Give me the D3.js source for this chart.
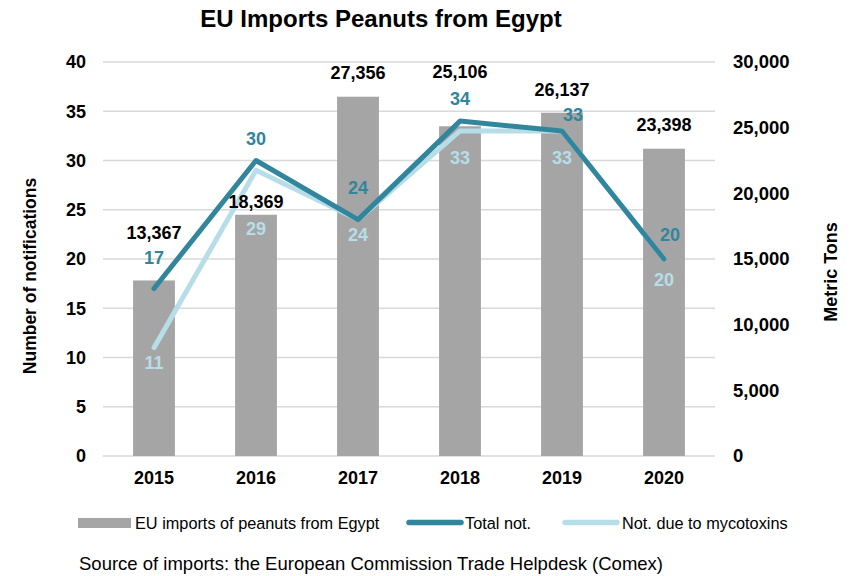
<!DOCTYPE html>
<html><head><meta charset="utf-8">
<script src="https://cdn.jsdelivr.net/npm/d3@7/dist/d3.min.js"></script>
<style>body{margin:0;background:#fff}svg{display:block;font-family:"Liberation Sans",Arial,sans-serif}</style>
</head><body>
<svg id="c" width="852" height="576"></svg>
<script>
const years = ["2015","2016","2017","2018","2019","2020"];
const imports = [13367, 18369, 27356, 25106, 26137, 23398];
const totalNot = [17, 30, 24, 34, 33, 20];
const mycoNot = [11, 29, 24, 33, 33, 20];
const leftTicks = [0,5,10,15,20,25,30,35,40];
const rightTicks = [0,5000,10000,15000,20000,25000,30000];

// label placement offsets (style, not data)
const barLabelDy = [-46, -12, -22, -53, -21, -22];
const totLabel = [[0,-29],[0,-20],[0,-30],[0,-21],[11,-15],[6,-23]];
const mycLabel = [[0,17],[0,60],[0,17],[0,28],[0,28],[0,22]];

const svg = d3.select("#c");
const x0 = 103, x1 = 715, yTop = 62, yBot = 456;
const x = d3.scaleBand().domain(years).range([x0, x1]).paddingInner(0.59).paddingOuter(0.295);
const xc = d => x(d) + x.bandwidth()/2;
const yL = d3.scaleLinear().domain([0,40]).range([yBot, yTop]);
const yR = d3.scaleLinear().domain([0,30000]).range([yBot, yTop]);
const FF = "Liberation Sans, Arial, sans-serif";

// gridlines
svg.append("g").selectAll("line").data(leftTicks).join("line")
  .attr("x1", x0).attr("x2", x1).attr("y1", d=>yL(d)).attr("y2", d=>yL(d))
  .attr("stroke", "#d9d9d9").attr("stroke-width", 1.3);

// bars
svg.append("g").selectAll("rect").data(imports).join("rect")
  .attr("x", (d,i)=>x(years[i])).attr("width", x.bandwidth())
  .attr("y", d=>yR(d)).attr("height", d=>yBot - yR(d)).attr("fill", "#a5a5a5");

// left axis
const axL = svg.append("g").attr("transform", `translate(${x0-17},0)`)
  .call(d3.axisLeft(yL).tickValues(leftTicks).tickSize(0).tickPadding(0));
axL.select(".domain").remove();
axL.selectAll("text").attr("font-size", 18).attr("font-weight", "bold").attr("fill", "#000").attr("font-family", FF);

// right axis
const axR = svg.append("g").attr("transform", `translate(${x1+18},0)`)
  .call(d3.axisRight(yR).tickValues(rightTicks).tickSize(0).tickPadding(0).tickFormat(d3.format(",")));
axR.select(".domain").remove();
axR.selectAll("text").attr("font-size", 18.5).attr("font-weight", "bold").attr("fill", "#000").attr("font-family", FF);

// x axis
const axX = svg.append("g").attr("transform", `translate(0,${yBot})`)
  .call(d3.axisBottom(x).tickSize(0).tickPadding(15));
axX.select(".domain").remove();
axX.selectAll("text").attr("font-size", 18).attr("font-weight", "bold").attr("fill", "#000").attr("font-family", FF);

// lines
const line = arr => d3.line().x((d,i)=>xc(years[i])).y(d=>yL(d))(arr);
svg.append("path").attr("d", line(mycoNot)).attr("fill","none").attr("stroke","#b7dee8")
  .attr("stroke-width",5).attr("stroke-linejoin","round").attr("stroke-linecap","round");
svg.append("path").attr("d", line(totalNot)).attr("fill","none").attr("stroke","#31859c")
  .attr("stroke-width",5).attr("stroke-linejoin","round").attr("stroke-linecap","round");

// bar labels
svg.append("g").selectAll("text").data(imports).join("text")
  .attr("x",(d,i)=>xc(years[i])).attr("y",(d,i)=>yR(d)+barLabelDy[i])
  .attr("text-anchor","middle").attr("dominant-baseline","middle")
  .attr("font-size",18).attr("font-weight","bold").attr("fill","#000")
  .text(d=>d3.format(",")(d));

// line labels
svg.append("g").selectAll("text").data(totalNot).join("text")
  .attr("x",(d,i)=>xc(years[i])+totLabel[i][0]).attr("y",(d,i)=>yL(d)+totLabel[i][1])
  .attr("text-anchor","middle").attr("dominant-baseline","middle")
  .attr("font-size",18).attr("font-weight","bold").attr("fill","#31859c").text(d=>d);
svg.append("g").selectAll("text").data(mycoNot).join("text")
  .attr("x",(d,i)=>xc(years[i])+mycLabel[i][0]).attr("y",(d,i)=>yL(d)+mycLabel[i][1])
  .attr("text-anchor","middle").attr("dominant-baseline","middle")
  .attr("font-size",18).attr("font-weight","bold").attr("fill","#b7dee8").text(d=>d);

// title
svg.append("text").attr("x",381).attr("y",27).attr("text-anchor","middle")
  .attr("font-size",24).attr("font-weight","bold").text("EU Imports Peanuts from Egypt");

// axis titles
svg.append("text").attr("transform","translate(36,276) rotate(-90)").attr("text-anchor","middle")
  .attr("font-size",17.5).attr("font-weight","bold").text("Number of notifications");
svg.append("text").attr("transform","translate(837,272) rotate(-90)").attr("text-anchor","middle")
  .attr("font-size",18).attr("font-weight","bold").text("Metric Tons");

// legend
const lg = svg.append("g").attr("font-size",16.3);
lg.append("rect").attr("x",78).attr("y",518).attr("width",53).attr("height",10).attr("fill","#a5a5a5");
lg.append("text").attr("x",135).attr("y",528.5).text("EU imports of peanuts from Egypt");
lg.append("line").attr("x1",409).attr("x2",461).attr("y1",522.5).attr("y2",522.5)
  .attr("stroke","#31859c").attr("stroke-width",5.5).attr("stroke-linecap","round");
lg.append("text").attr("x",465).attr("y",528.5).text("Total not.");
lg.append("line").attr("x1",565).attr("x2",617).attr("y1",522.5).attr("y2",522.5)
  .attr("stroke","#b7dee8").attr("stroke-width",5.5).attr("stroke-linecap","round");
lg.append("text").attr("x",622).attr("y",528.5).text("Not. due to mycotoxins");

svg.append("text").attr("x",79).attr("y",570).attr("font-size",18.5)
  .text("Source of imports: the European Commission Trade Helpdesk (Comex)");
</script>
</body></html>
